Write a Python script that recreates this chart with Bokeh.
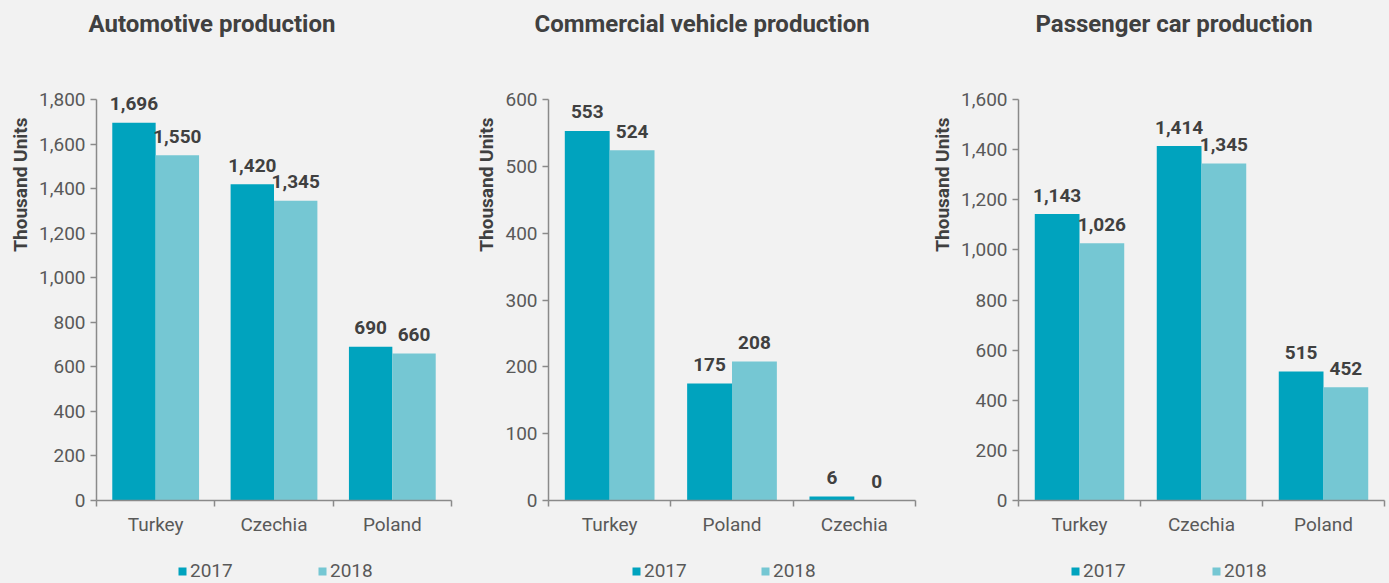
from bokeh.plotting import figure
from bokeh.layouts import row, column
from bokeh.models import (ColumnDataSource, Range1d, FixedTicker, NumeralTickFormatter,
                          Legend, LegendItem, Title)
from bokeh.transform import dodge
from bokeh.core.properties import value
from bokeh.embed import file_html
from bokeh.resources import INLINE

# ---------------- data ----------------
auto_title = "Automotive production"
auto_cats = ["Turkey", "Czechia", "Poland"]
auto_2017 = [1696, 1420, 690]
auto_2018 = [1550, 1345, 660]

cv_title = "Commercial vehicle production"
cv_cats = ["Turkey", "Poland", "Czechia"]
cv_2017 = [553, 175, 6]
cv_2018 = [524, 208, 0]

pc_title = "Passenger car production"
pc_cats = ["Turkey", "Czechia", "Poland"]
pc_2017 = [1143, 1414, 515]
pc_2018 = [1026, 1345, 452]

years = ["2017", "2018"]
y_label = "Thousand Units"

# ---------------- style ----------------
FONT = "Roboto"
BG = "#f2f2f2"
C17 = "#00a3be"
C18 = "#75c7d3"
AXIS = "#8a8a8a"
TICKTXT = "#595959"
DARK = "#404040"
BW = 0.3667
TITLE_H = 56
MAIN_H = 499
LEG_H = 28
AXIS_PX = 401      # pixel height of the 0..max axis
HEADROOM = 8       # extra frame room above the top tick so labels are not clipped


def blank(width, height):
    f = figure(width=width, height=height, output_backend="svg", toolbar_location=None,
               x_axis_type=None, y_axis_type=None,
               x_range=Range1d(-10, -9), y_range=Range1d(-10, -9),
               min_border_left=0, min_border_right=0, min_border_top=0,
               min_border_bottom=0)
    f.background_fill_color = BG
    f.border_fill_color = BG
    f.outline_line_color = None
    f.grid.visible = False
    return f


def title_fig(width, text, x_off):
    f = blank(width, TITLE_H)
    f.title.text = text
    f.title.text_font = FONT
    f.title.text_font_size = "24px"
    f.title.text_font_style = "bold"
    f.title.text_color = DARK
    f.title.align = "left"
    f.title.offset = x_off
    f.title.vertical_align = "top"
    f.title.standoff = 19
    return f


def make_source(cats, v17, v18):
    return ColumnDataSource(dict(
        pos=[i + 0.5 for i in range(len(cats))],
        cat=cats, v17=v17, v18=v18,
        t17=[f"{v:,}" for v in v17], t18=[f"{v:,}" for v in v18]))


def add_bars(fig, src):
    r17 = fig.vbar(x=dodge("pos", -BW / 2), top="v17", width=BW, source=src,
                   fill_color=C17, line_color=None)
    r18 = fig.vbar(x=dodge("pos", BW / 2), top="v18", width=BW, source=src,
                   fill_color=C18, line_color=None)
    return r17, r18


def panel(src, cats, ymax, ystep, width, left, right):
    y_end = ymax * (AXIS_PX + HEADROOM) / AXIS_PX
    p = figure(width=width, height=MAIN_H, output_backend="svg", toolbar_location=None,
               x_range=Range1d(0, 3), y_range=Range1d(0, y_end),
               min_border_left=left, min_border_right=right,
               min_border_top=99 - HEADROOM - TITLE_H, min_border_bottom=55)
    p.background_fill_color = BG
    p.border_fill_color = BG
    p.outline_line_color = None
    p.grid.visible = False

    add_bars(p, src)

    for col, tcol, off in (("v17", "t17", -BW / 2), ("v18", "t18", BW / 2)):
        p.text(x=dodge("pos", off), y=col, text=tcol, source=src,
               text_align="center", text_baseline="alphabetic", y_offset=-19,
               text_font=value(FONT), text_font_size="19px",
               text_font_style="bold", text_color=DARK)

    # y axis
    ya = p.yaxis[0]
    ya.bounds = (0, ymax)
    ya.ticker = FixedTicker(ticks=list(range(0, ymax + 1, ystep)))
    ya.formatter = NumeralTickFormatter(format="0,0")
    ya.axis_line_color = AXIS
    ya.axis_line_width = 1.5
    ya.major_tick_line_color = AXIS
    ya.major_tick_line_width = 1.5
    ya.major_tick_in = 0
    ya.major_tick_out = 6
    ya.minor_tick_line_color = None
    ya.major_label_standoff = 5
    ya.major_label_text_font = FONT
    ya.major_label_text_font_size = "19px"
    ya.major_label_text_color = TICKTXT

    # y-axis title, placed near the top of the axis
    yt = Title(text=y_label, align="right", offset=18 + HEADROOM, standoff=10,
               text_font=FONT, text_font_size="19px", text_font_style="bold",
               text_color=DARK)
    p.add_layout(yt, "left")

    # x axis: labels at centres, ticks at category boundaries
    n = len(cats)
    xa = p.xaxis[0]
    xa.ticker = FixedTicker(ticks=[i + 0.5 for i in range(n)],
                            minor_ticks=list(range(n + 1)))
    xa.major_label_overrides = {i + 0.5: c for i, c in enumerate(cats)}
    xa.axis_line_color = AXIS
    xa.axis_line_width = 1.5
    xa.major_tick_line_color = None
    xa.major_tick_in = 0
    xa.major_tick_out = 0
    xa.minor_tick_line_color = AXIS
    xa.minor_tick_line_width = 1.5
    xa.minor_tick_in = 0
    xa.minor_tick_out = 6
    xa.major_label_standoff = 6
    xa.major_label_text_font = FONT
    xa.major_label_text_font_size = "19px"
    xa.major_label_text_color = TICKTXT
    return p


def legend_fig(src, width, leg_x, leg_spacing):
    f = blank(width, LEG_H)
    # same bars (outside this strip's view) serve as legend swatches
    g17, g18 = add_bars(f, src)
    leg = Legend(items=[LegendItem(label=years[0], renderers=[g17]),
                        LegendItem(label=years[1], renderers=[g18])],
                 orientation="horizontal", location=(leg_x, 1),
                 glyph_width=10, glyph_height=10, label_standoff=3,
                 label_width=leg_spacing - 13, label_height=14,
                 spacing=0, padding=0, margin=0,
                 label_text_font=FONT, label_text_font_size="19px",
                 label_text_color=TICKTXT, border_line_color=None,
                 background_fill_alpha=0)
    f.add_layout(leg)
    return f


W1, W2, W3 = 466, 456, 467

s1 = make_source(auto_cats, auto_2017, auto_2018)
s2 = make_source(cv_cats, cv_2017, cv_2018)
s3 = make_source(pc_cats, pc_2017, pc_2018)

t1 = title_fig(W1, auto_title, 88)
t2 = title_fig(W2, cv_title, 68)
t3 = title_fig(W3, pc_title, 113)

p1 = panel(s1, auto_cats, 1800, 200, W1, 96, 15)
p2 = panel(s2, cv_cats, 600, 100, W2, 82, 7)
p3 = panel(s3, pc_cats, 1600, 200, W3, 96, 5)

l1 = legend_fig(s1, W1, 177, 140)
l2 = legend_fig(s2, W2, 165, 129)
l3 = legend_fig(s3, W3, 148, 141)

layout = column(row(t1, t2, t3, spacing=0),
                row(p1, p2, p3, spacing=0),
                row(l1, l2, l3, spacing=0), spacing=0)
layout.styles = {"background-color": BG}

open("out.html", "w").write(file_html(layout, INLINE))
